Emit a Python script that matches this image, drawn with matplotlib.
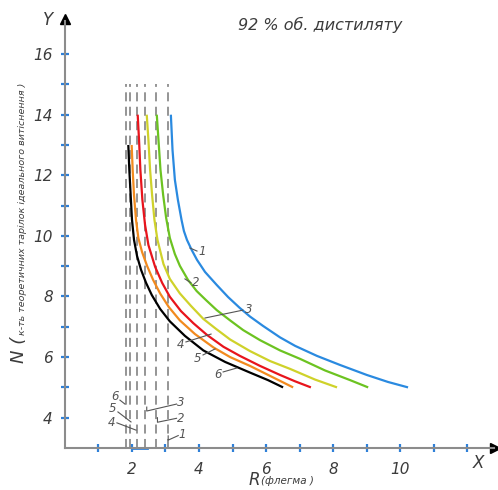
import matplotlib
matplotlib.use("Agg")
import matplotlib.pyplot as plt

plt.rcParams["font.family"] = ["DejaVu Sans"]

# Reflux ratio R vs number of theoretical plates N, curves 1..6
R_1 = [3.16, 3.21, 3.28, 3.37, 3.48, 3.55, 3.64, 3.78, 3.94, 4.18, 4.53, 4.87,
       5.22, 5.52, 5.91, 6.42, 6.87, 7.52, 8.21, 9.01, 9.64, 10.24]
N_1 = [14.0, 12.83, 11.85, 11.19, 10.52, 10.16, 9.87, 9.54, 9.21, 8.81, 8.38,
       7.98, 7.62, 7.34, 7.03, 6.65, 6.37, 6.04, 5.74, 5.41, 5.18, 5.0]
R_2 = [2.74, 2.79, 2.85, 2.93, 3.02, 3.13, 3.28, 3.43, 3.67, 3.93, 4.21, 4.53,
       4.93, 5.32, 5.82, 6.42, 7.02, 7.76, 8.51, 9.05]
N_2 = [14.0, 13.17, 12.18, 11.35, 10.59, 9.93, 9.40, 9.01, 8.55, 8.18, 7.88,
       7.55, 7.21, 6.89, 6.56, 6.22, 5.94, 5.56, 5.24, 5.0]
R_3 = [2.44, 2.49, 2.54, 2.60, 2.67, 2.76, 2.94, 3.13, 3.43, 3.76, 4.13, 4.51,
       4.93, 5.52, 6.12, 6.72, 7.46, 8.12]
N_3 = [14.0, 13.17, 12.18, 11.35, 10.53, 9.87, 9.07, 8.58, 8.10, 7.69, 7.26,
       6.93, 6.58, 6.20, 5.87, 5.61, 5.26, 5.0]
R_4 = [2.17, 2.21, 2.25, 2.31, 2.39, 2.49, 2.69, 2.90, 3.13, 3.46, 3.83, 4.24,
       4.73, 5.22, 5.82, 6.42, 6.87, 7.34]
N_4 = [14.0, 13.17, 12.18, 11.19, 10.36, 9.70, 8.98, 8.45, 7.99, 7.52, 7.12,
       6.73, 6.34, 6.04, 5.71, 5.41, 5.20, 5.0]
R_5 = [1.99, 2.02, 2.06, 2.12, 2.19, 2.30, 2.45, 2.63, 2.84, 3.10, 3.43, 3.88,
       4.43, 4.93, 5.52, 6.12, 6.81]
N_5 = [13.0, 12.18, 11.35, 10.53, 9.93, 9.47, 9.01, 8.55, 8.10, 7.65, 7.21,
       6.76, 6.32, 6.0, 5.71, 5.38, 5.0]
R_6 = [1.89, 1.92, 1.96, 2.00, 2.06, 2.15, 2.27, 2.42, 2.59, 2.84, 3.13, 3.58,
       4.13, 4.78, 5.52, 6.06, 6.51]
N_6 = [13.0, 12.18, 11.35, 10.53, 9.87, 9.34, 8.88, 8.45, 8.05, 7.59, 7.18,
       6.70, 6.22, 5.84, 5.49, 5.24, 5.0]

# minimum reflux ratio (vertical asymptote) for curves 6..1
R_min = [1.82, 1.94, 2.15, 2.39, 2.72, 3.07]

curves = [(R_1, N_1, "#2a8ae0"), (R_2, N_2, "#6cc321"), (R_3, N_3, "#cfd22a"),
          (R_4, N_4, "#e8141c"), (R_5, N_5, "#f28a1e"), (R_6, N_6, "black")]

x_ticks = list(range(1, 13))
y_ticks = list(range(4, 17))

tick_blue = "#2f80d8"
axis_grey = "#8c8c8c"
text_grey = "#3c3c3c"
label_grey = "#555555"

fig = plt.figure(figsize=(4.98, 4.90), dpi=100)
ax = fig.add_axes([0, 0, 1, 1])
ax.set_xlim(-1.940, 12.925)
ax.set_ylim(1.614, 17.785)

for s in ["top", "right"]:
    ax.spines[s].set_visible(False)
ax.spines["left"].set_position(("data", 0))
ax.spines["bottom"].set_position(("data", 3))
ax.spines["left"].set_bounds(3, 17.1)
ax.spines["bottom"].set_bounds(0, 12.8)
for s in ["left", "bottom"]:
    ax.spines[s].set_color(axis_grey)
    ax.spines[s].set_linewidth(1.5)

ax.set_xticks(x_ticks)
ax.set_xticklabels([str(v) if v % 2 == 0 and v <= 10 else "" for v in x_ticks])
ax.set_yticks(y_ticks)
ax.set_yticklabels([str(v) if v % 2 == 0 else "" for v in y_ticks])
ax.tick_params(direction="inout", length=5.5, width=1.6, color=tick_blue,
               labelcolor=text_grey, labelsize=11)
ax.tick_params(axis="x", pad=7)
ax.tick_params(axis="y", pad=6)
for lab in ax.get_xticklabels() + ax.get_yticklabels():
    lab.set_style("italic")

# arrow heads
ax.plot(12.85, 3, marker=">", ms=7, color="black", clip_on=False)
ax.plot(0, 17.15, marker="^", ms=7, color="black", clip_on=False)
ax.plot([2, 2.45], [3, 3], color=tick_blue, lw=2)

for x in R_min:
    ax.plot([x, x], [3, 15], color=axis_grey, lw=1.3, dashes=(5, 3))

for r, n, c in curves:
    ax.plot(r, n, color=c, lw=1.6, solid_capstyle="butt")

lab_kw = dict(color=label_grey, fontsize=8.5, style="italic", va="center")
lead_kw = dict(color=label_grey, lw=0.8)

# leaders on the curves
ax.plot([3.73, 3.94], [9.60, 9.50], **lead_kw)
ax.text(3.97, 9.50, "1", ha="left", **lab_kw)
ax.plot([3.58, 3.76], [8.58, 8.45], **lead_kw)
ax.text(3.79, 8.45, "2", ha="left", **lab_kw)
ax.plot([4.18, 5.31], [7.29, 7.55], **lead_kw)
ax.text(5.36, 7.58, "3", ha="left", **lab_kw)
ax.plot([3.61, 4.36], [6.50, 6.76], **lead_kw)
ax.text(3.46, 6.40, "4", ha="center", **lab_kw)
ax.plot([4.12, 4.48], [6.07, 6.27], **lead_kw)
ax.text(3.97, 5.97, "5", ha="center", **lab_kw)
ax.plot([4.72, 5.13], [5.51, 5.64], **lead_kw)
ax.text(4.57, 5.41, "6", ha="center", **lab_kw)

# leaders on the asymptotes
ax.plot([1.64, 1.79], [4.58, 4.45], **lead_kw)
ax.text(1.49, 4.70, "6", ha="center", **lab_kw)
ax.plot([1.58, 1.97], [4.19, 3.86], **lead_kw)
ax.text(1.43, 4.30, "5", ha="center", **lab_kw)
ax.plot([1.55, 2.12], [3.83, 3.59], **lead_kw)
ax.text(1.40, 3.83, "4", ha="center", **lab_kw)
ax.plot([2.44, 2.44, 3.33], [4.35, 4.22, 4.45], **lead_kw)
ax.text(3.46, 4.49, "3", ha="center", **lab_kw)
ax.plot([2.76, 2.76, 3.33], [4.0, 3.85, 3.98], **lead_kw)
ax.text(3.46, 3.96, "2", ha="center", **lab_kw)
ax.plot([3.08, 3.08, 3.38], [3.40, 3.26, 3.41], **lead_kw)
ax.text(3.49, 3.43, "1", ha="center", **lab_kw)

# titles and axis names
ax.text(7.61, 16.96, "92 % об. дистиляту", ha="center", va="center",
        fontsize=11.5, style="italic", color=text_grey)
ax.text(-0.51, 17.13, "Y", ha="center", va="center", fontsize=12,
        style="italic", color=text_grey)
ax.text(12.33, 2.50, "X", ha="center", va="center", fontsize=12,
        style="italic", color=text_grey)
ax.text(5.64, 1.93, "R", ha="center", va="center", fontsize=12,
        style="italic", color=text_grey)
ax.text(5.85, 1.91, "(флегма )", ha="left", va="center", fontsize=7.5,
        style="italic", color=text_grey)
ax.text(-1.37, 6.25, "N (", ha="center", va="center", rotation=90,
        fontsize=13, style="italic", color=text_grey)
ax.text(-1.28, 10.9, "к-ть теоретичних тарілок ідеального витіснення )",
        ha="center", va="center", rotation=90, fontsize=6.8,
        style="italic", color=text_grey)

fig.savefig("out.png", dpi=100)
